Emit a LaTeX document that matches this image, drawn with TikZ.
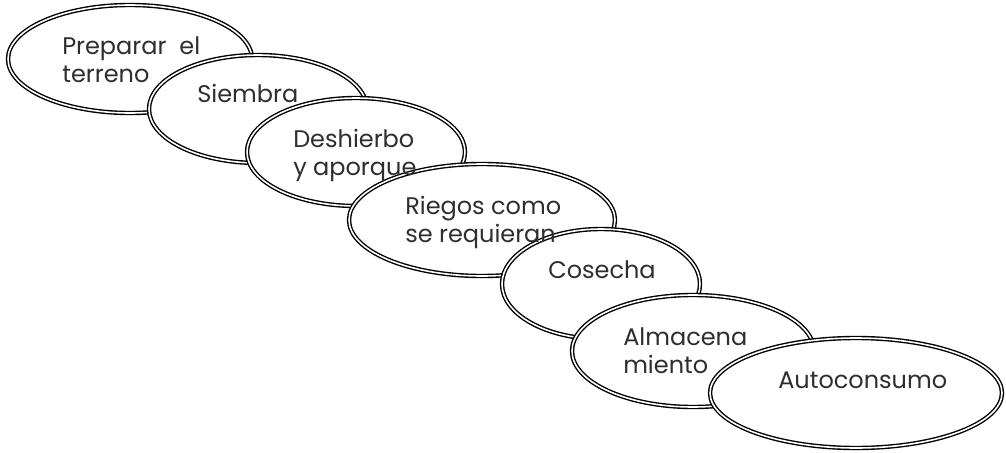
\documentclass[tikz,border=0pt]{standalone}
\usepackage{fontspec}
\setmainfont{Poppins}
\usetikzlibrary{shapes.geometric}

\begin{document}
\begin{tikzpicture}[x=0.75pt,y=-0.75pt,line join=round,
  etapa/.style 2 args={ellipse,draw=black,fill=white,double=white,line width=1.05pt,
    double distance=1.2pt,inner sep=0pt,minimum width=#1*1.5pt,minimum height=#2*1.5pt},
  rotulo/.style={anchor=base west,align=left,inner sep=0pt,text=black!82,
    font=\fontsize{18}{21}\selectfont}]
\useasboundingbox (0,0) rectangle (1006,453);

% etapas, cada una tapa a la anterior
\node[etapa={122}{54}] (preparar) at (130,59) {};
\node[etapa={109}{54}] (siembra) at (258,109) {};
\node[etapa={109}{54}] (deshierbo) at (356,152) {};
\node[etapa={133}{56}] (riegos) at (482,220) {};
\node[etapa={99}{55}] (cosecha) at (601,284) {};
\node[etapa={121}{56}] (almacen) at (693,351) {};
\node[etapa={146}{55}] (autoconsumo) at (856,393) {};

% textos encima (base = ultima linea)
\node[rotulo] (tpreparar) at (62,83) {Preparar\ \ el\\terreno};
\node[rotulo] (tsiembra) at (197,103) {Siembra};
\node[rotulo] (tdeshierbo) at (293,175) {Deshierbo\\y aporque};
\node[rotulo] (triegos) at (405,242) {Riegos como\\se requieran};
\node[rotulo] (tcosecha) at (548,278) {Cosecha};
\node[rotulo] (talmacen) at (623,373) {Almacena\\miento};
\node[rotulo] (tautoconsumo) at (778,388) {Autoconsumo};

\end{tikzpicture}
\end{document}
